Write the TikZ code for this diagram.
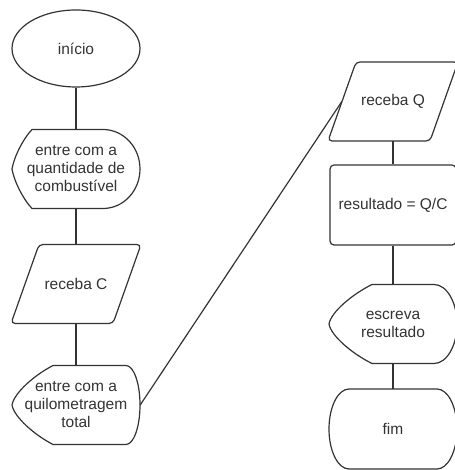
\documentclass[tikz,border=0pt]{standalone}
\usepackage{fontspec}
\setmainfont{Liberation Sans}
\usetikzlibrary{shapes.geometric}

\definecolor{ink}{HTML}{333333}

\begin{document}
\begin{tikzpicture}[x=1pt, y=1pt,
  every node/.style={font=\fontsize{15.5}{18}\selectfont, text=ink, align=center, inner sep=0pt,
    minimum width=128pt, minimum height=79pt},
  line/.style={draw=ink, line width=1.2pt},
  term/.style={ellipse, line},
  proc/.style={rectangle, line, rounded corners=4pt},
  %% io: parallelogram, slant 28
  io/.style={minimum width=130pt, append after command={\pgfextra{
    \draw[line, rounded corners=4pt, shift={(\tikzlastnode.center)}]
      (-65,-39.5) -- (37,-39.5) -- (65,39.5) -- (-37,39.5) -- cycle;}}},
  %% display: #1 = left inset, #2 = right radius
  display/.style 2 args={append after command={\pgfextra{
    \draw[line, shift={(\tikzlastnode.center)}]
      (-64+#1,39.5) -- (64-#2,39.5) arc[start angle=90, end angle=-90, x radius=#2, y radius=39.5]
      -- (-64+#1,-39.5) .. controls (-64+0.55*#1,-30) and (-62,-12) .. (-64,0)
      .. controls (-62,12) and (-64+0.55*#1,30) .. (-64+#1,39.5) -- cycle;}}},
  stop/.style={append after command={\pgfextra{
    \draw[line, shift={(\tikzlastnode.center)}]
      (-44,40) -- (44,40) arc[start angle=90, end angle=-90, x radius=20, y radius=40]
      -- (-44,-40) arc[start angle=270, end angle=90, x radius=20, y radius=40] -- cycle;}}}
]

  \newcommand\colL{76}
  \newcommand\colR{393}

  \useasboundingbox (0,0) rectangle (454,470);

  %% left column
  \node[term, minimum height=77pt] (ini) at (\colL, 421.5) {início};
  \node[display={20}{37}] (ent1) at (\colL, 301) {entre com a\\quantidade de\\combustível};
  \node[io] (recC) at (\colL, 186) {receba C};
  \node[display={41}{14}] (ent2) at (\colL, 65) {entre com a\\quilometragem\\total};

  %% right column
  \node[io] (recQ) at (\colR, 368.5) {receba Q};
  \node[proc, minimum width=126pt, minimum height=80pt] (res) at (\colR, 265) {resultado = Q/C};
  \node[display={43}{23}] (esc) at (\colR, 146) {escreva\\resultado};
  \node[stop, minimum height=80pt] (fim) at (\colR, 41) {fim};

  \draw[line] (ini) -- (ent1);
  \draw[line] (ent1) -- (recC);
  \draw[line] (recC) -- (ent2);
  \draw[line] (ent2.east) -- ([xshift=14pt]recQ.west); %% ent2->recQ
  \draw[line] (recQ) -- (res);
  \draw[line] (res) -- (esc);
  \draw[line] (esc) -- (fim);

\end{tikzpicture}
\end{document}
